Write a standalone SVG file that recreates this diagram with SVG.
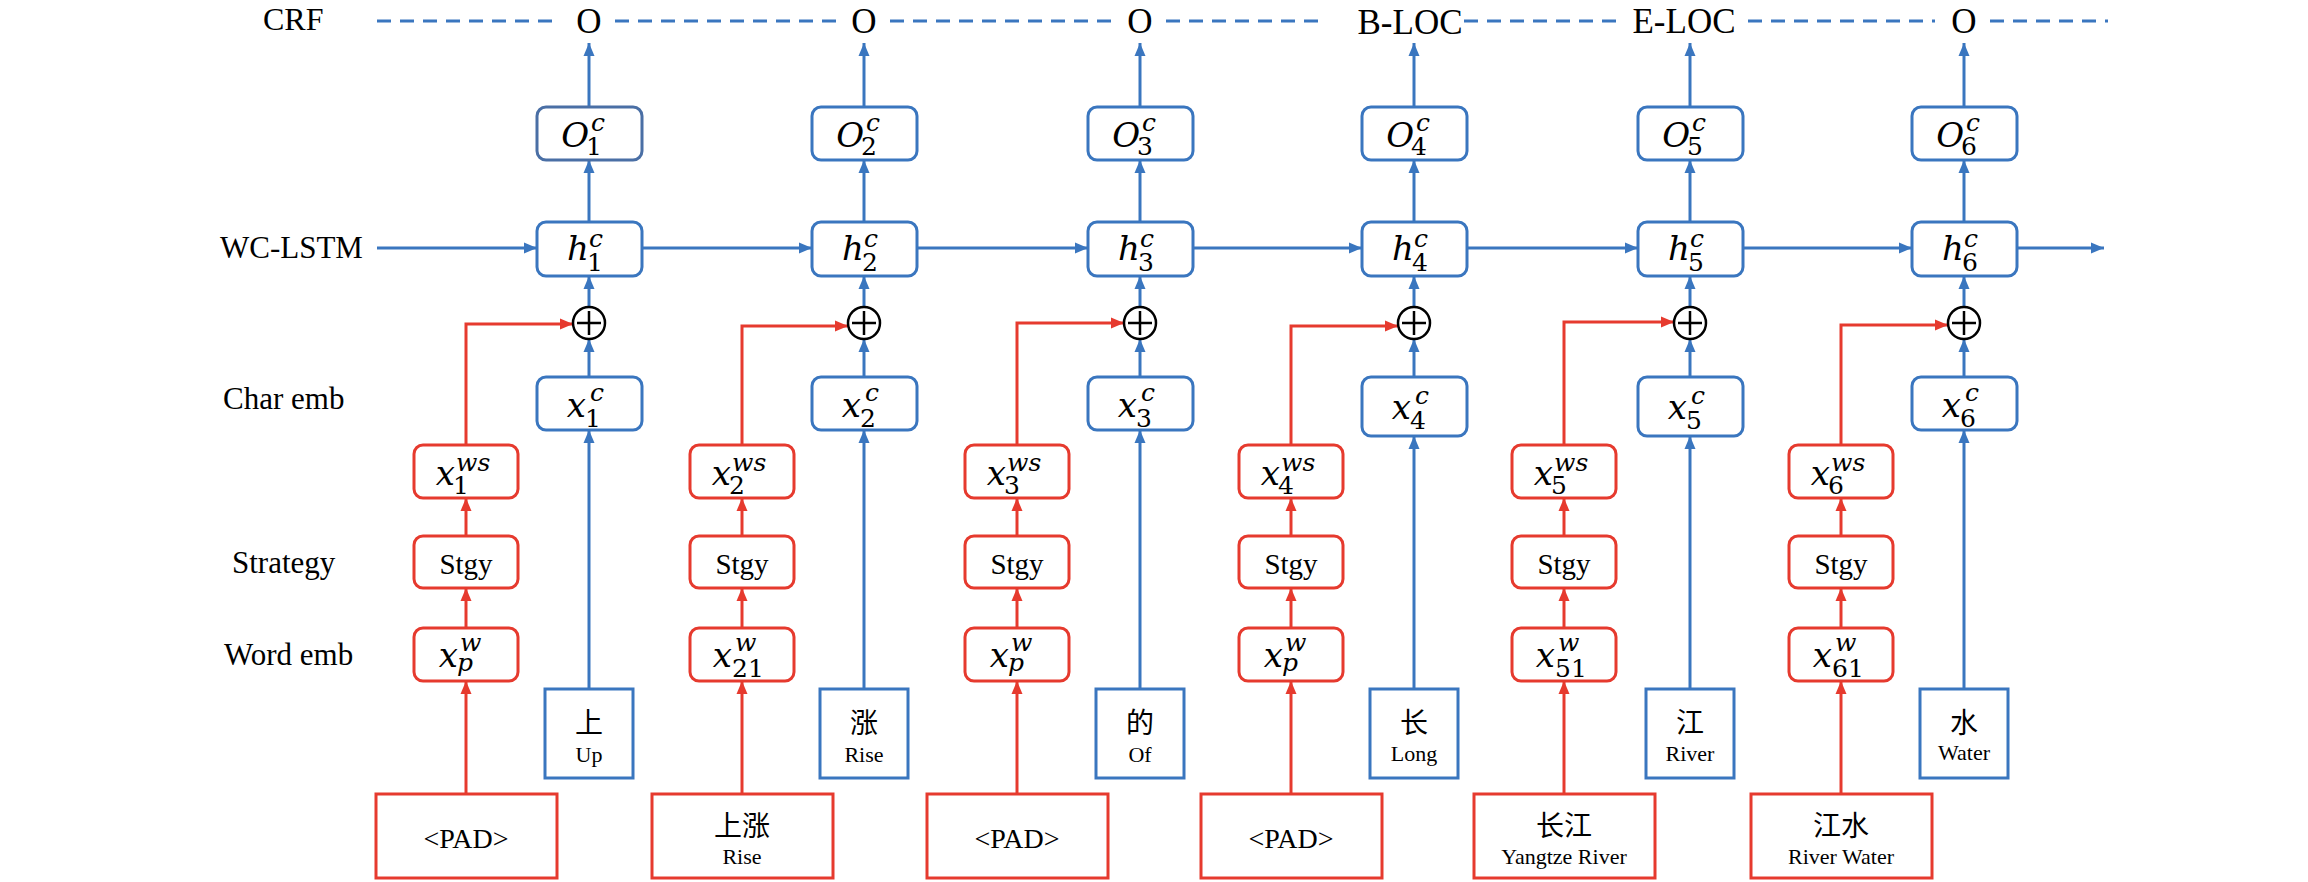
<svg xmlns="http://www.w3.org/2000/svg" width="2308" height="882" viewBox="0 0 2308 882">
<style>
.bg{fill:#ffffff}
.bb{fill:#ffffff;stroke:#3A76BF;stroke-width:3}
.rb{fill:#ffffff;stroke:#E63A2E;stroke-width:3}
.bl{fill:none;stroke:#3A76BF;stroke-width:3}
.rl{fill:none;stroke:#E63A2E;stroke-width:3}
.dash{fill:none;stroke:#3A76BF;stroke-width:3;stroke-dasharray:14 9}
.circ{fill:#ffffff;stroke:#000000;stroke-width:2.5}
.lab{font-family:"Liberation Serif","Times New Roman",serif;font-size:31px;fill:#000}
.top{font-family:"Liberation Serif","Times New Roman",serif;font-size:35px;fill:#000;text-anchor:middle}
.m{font-family:"DejaVu Serif",serif;font-style:italic;font-size:34px;fill:#000;text-anchor:end}
.sp{font-family:"DejaVu Serif",serif;font-style:italic;font-size:25px;fill:#000}
.sb{font-family:"DejaVu Serif",serif;font-size:25px;fill:#000}
.tm{font-family:"Liberation Serif","Times New Roman",serif;font-size:29px;fill:#000;text-anchor:middle}
.cj{font-family:"Noto Sans CJK SC",sans-serif;font-size:28px;fill:#000;text-anchor:middle}
.en{font-family:"Liberation Serif","Times New Roman",serif;font-size:22px;fill:#000;text-anchor:middle}
</style>
<defs>
<marker id="ab" markerUnits="userSpaceOnUse" markerWidth="14" markerHeight="12" refX="13" refY="6" orient="auto"><path d="M0,0.5 L13,6 L0,11.5 z" fill="#3A76BF"/></marker>
<marker id="ar" markerUnits="userSpaceOnUse" markerWidth="14" markerHeight="12" refX="13" refY="6" orient="auto"><path d="M0,0.5 L13,6 L0,11.5 z" fill="#E63A2E"/></marker>
</defs>
<rect class="bg" x="0" y="0" width="2308" height="882"/>

<g id="labels">
<text class="lab" x="263" y="30" style="font-size:32px">CRF</text>
<text class="lab" x="220" y="258">WC-LSTM</text>
<text class="lab" x="223" y="409">Char emb</text>
<text class="lab" x="232" y="573">Strategy</text>
<text class="lab" x="224" y="665">Word emb</text>
</g>

<g id="connectors">
<path class="dash" d="M377,21 H560 M615,21 H836 M890,21 H1112 M1166,21 H1325 M1464,21 H1618 M1748,21 H1935 M1990,21 H2108"/>
<path class="bl" marker-end="url(#ab)" d="M377,248 H537"/>
<path class="bl" marker-end="url(#ab)" d="M642,248 H812"/>
<path class="bl" marker-end="url(#ab)" d="M917,248 H1088"/>
<path class="bl" marker-end="url(#ab)" d="M1193,248 H1362"/>
<path class="bl" marker-end="url(#ab)" d="M1467,248 H1638"/>
<path class="bl" marker-end="url(#ab)" d="M1743,248 H1912"/>
<path class="bl" marker-end="url(#ab)" d="M2017,248 H2104"/>

<path class="bl" marker-end="url(#ab)" d="M589,107 V43"/>
<path class="bl" marker-end="url(#ab)" d="M589,222 V160"/>
<path class="bl" marker-end="url(#ab)" d="M589,307 V276"/>
<path class="bl" marker-end="url(#ab)" d="M589,377 V339"/>
<path class="bl" marker-end="url(#ab)" d="M589,689 V430"/>

<path class="bl" marker-end="url(#ab)" d="M864,107 V43"/>
<path class="bl" marker-end="url(#ab)" d="M864,222 V160"/>
<path class="bl" marker-end="url(#ab)" d="M864,307 V276"/>
<path class="bl" marker-end="url(#ab)" d="M864,377 V339"/>
<path class="bl" marker-end="url(#ab)" d="M864,689 V430"/>

<path class="bl" marker-end="url(#ab)" d="M1140,107 V43"/>
<path class="bl" marker-end="url(#ab)" d="M1140,222 V160"/>
<path class="bl" marker-end="url(#ab)" d="M1140,307 V276"/>
<path class="bl" marker-end="url(#ab)" d="M1140,377 V339"/>
<path class="bl" marker-end="url(#ab)" d="M1140,689 V430"/>

<path class="bl" marker-end="url(#ab)" d="M1414,107 V43"/>
<path class="bl" marker-end="url(#ab)" d="M1414,222 V160"/>
<path class="bl" marker-end="url(#ab)" d="M1414,307 V276"/>
<path class="bl" marker-end="url(#ab)" d="M1414,377 V339"/>
<path class="bl" marker-end="url(#ab)" d="M1414,689 V436"/>

<path class="bl" marker-end="url(#ab)" d="M1690,107 V43"/>
<path class="bl" marker-end="url(#ab)" d="M1690,222 V160"/>
<path class="bl" marker-end="url(#ab)" d="M1690,307 V276"/>
<path class="bl" marker-end="url(#ab)" d="M1690,377 V339"/>
<path class="bl" marker-end="url(#ab)" d="M1690,689 V436"/>

<path class="bl" marker-end="url(#ab)" d="M1964,107 V43"/>
<path class="bl" marker-end="url(#ab)" d="M1964,222 V160"/>
<path class="bl" marker-end="url(#ab)" d="M1964,307 V276"/>
<path class="bl" marker-end="url(#ab)" d="M1964,377 V339"/>
<path class="bl" marker-end="url(#ab)" d="M1964,689 V430"/>

<path class="rl" marker-end="url(#ar)" d="M466,445 V324 H573"/>
<path class="rl" marker-end="url(#ar)" d="M466,536 V498"/>
<path class="rl" marker-end="url(#ar)" d="M466,628 V588"/>
<path class="rl" marker-end="url(#ar)" d="M466,794 V681"/>

<path class="rl" marker-end="url(#ar)" d="M742,445 V326 H848"/>
<path class="rl" marker-end="url(#ar)" d="M742,536 V498"/>
<path class="rl" marker-end="url(#ar)" d="M742,628 V588"/>
<path class="rl" marker-end="url(#ar)" d="M742,794 V681"/>

<path class="rl" marker-end="url(#ar)" d="M1017,445 V323 H1124"/>
<path class="rl" marker-end="url(#ar)" d="M1017,536 V498"/>
<path class="rl" marker-end="url(#ar)" d="M1017,628 V588"/>
<path class="rl" marker-end="url(#ar)" d="M1017,794 V681"/>

<path class="rl" marker-end="url(#ar)" d="M1291,445 V326 H1398"/>
<path class="rl" marker-end="url(#ar)" d="M1291,536 V498"/>
<path class="rl" marker-end="url(#ar)" d="M1291,628 V588"/>
<path class="rl" marker-end="url(#ar)" d="M1291,794 V681"/>

<path class="rl" marker-end="url(#ar)" d="M1564,445 V322 H1674"/>
<path class="rl" marker-end="url(#ar)" d="M1564,536 V498"/>
<path class="rl" marker-end="url(#ar)" d="M1564,628 V588"/>
<path class="rl" marker-end="url(#ar)" d="M1564,794 V681"/>

<path class="rl" marker-end="url(#ar)" d="M1841,445 V325 H1948"/>
<path class="rl" marker-end="url(#ar)" d="M1841,536 V498"/>
<path class="rl" marker-end="url(#ar)" d="M1841,628 V588"/>
<path class="rl" marker-end="url(#ar)" d="M1841,794 V681"/>
</g>

<g id="crf-tags">
<text class="top" x="589" y="33">O</text>
<text class="top" x="864" y="33">O</text>
<text class="top" x="1140" y="33">O</text>
<text class="top" x="1410" y="34">B-LOC</text>
<text class="top" x="1684" y="33">E-LOC</text>
<text class="top" x="1964" y="33">O</text>
</g>

<g id="o1"><rect class="bb" style="stroke:#4A6FA5" x="537" y="107" width="105" height="53" rx="9"/><text class="m" x="589" y="147">O</text><text class="sp" x="591" y="131">c</text><text class="sb" x="586" y="155">1</text></g>
<g id="h1"><rect class="bb" x="537" y="222" width="105" height="54" rx="9"/><text class="m" x="589" y="260">h</text><text class="sp" x="589" y="247">c</text><text class="sb" x="587" y="271">1</text></g>
<g id="plus1"><circle class="circ" cx="589" cy="323" r="16"/><path d="M577,323 H601 M589,311 V335" stroke="#000" stroke-width="2.5"/></g>
<g id="xc1"><rect class="bb" x="537" y="377" width="105" height="53" rx="9"/><text class="m" x="586" y="417">x</text><text class="sp" x="590" y="401">c</text><text class="sb" x="585" y="427">1</text></g>
<g id="ch1"><rect class="bb" x="545" y="689" width="88" height="89"/><text class="cj" x="589" y="733">上</text><text class="en" x="589" y="762">Up</text></g>
<g id="xws1"><rect class="rb" x="414" y="445" width="104" height="53" rx="9"/><text class="m" x="455" y="485">x</text><text class="sp" x="456" y="471">ws</text><text class="sb" x="453" y="494">1</text></g>
<g id="stgy1"><rect class="rb" x="414" y="536" width="104" height="52" rx="9"/><text class="tm" x="466" y="574">Stgy</text></g>
<g id="xw1"><rect class="rb" x="414" y="628" width="104" height="53" rx="9"/><text class="m" x="458" y="667">x</text><text class="sp" x="460" y="651">w</text><text class="sp" x="457" y="671">p</text></g>
<g id="wd1"><rect class="rb" x="376" y="794" width="181" height="84"/><text class="tm" x="466" y="848" style="font-size:28px">&lt;PAD&gt;</text></g>

<g id="o2"><rect class="bb" x="812" y="107" width="105" height="53" rx="9"/><text class="m" x="864" y="147">O</text><text class="sp" x="866" y="131">c</text><text class="sb" x="861" y="155">2</text></g>
<g id="h2"><rect class="bb" x="812" y="222" width="105" height="54" rx="9"/><text class="m" x="864" y="260">h</text><text class="sp" x="864" y="247">c</text><text class="sb" x="862" y="271">2</text></g>
<g id="plus2"><circle class="circ" cx="864" cy="323" r="16"/><path d="M852,323 H876 M864,311 V335" stroke="#000" stroke-width="2.5"/></g>
<g id="xc2"><rect class="bb" x="812" y="377" width="105" height="53" rx="9"/><text class="m" x="861" y="417">x</text><text class="sp" x="865" y="401">c</text><text class="sb" x="860" y="427">2</text></g>
<g id="ch2"><rect class="bb" x="820" y="689" width="88" height="89"/><text class="cj" x="864" y="733">涨</text><text class="en" x="864" y="762">Rise</text></g>
<g id="xws2"><rect class="rb" x="690" y="445" width="104" height="53" rx="9"/><text class="m" x="731" y="485">x</text><text class="sp" x="732" y="471">ws</text><text class="sb" x="729" y="494">2</text></g>
<g id="stgy2"><rect class="rb" x="690" y="536" width="104" height="52" rx="9"/><text class="tm" x="742" y="574">Stgy</text></g>
<g id="xw2"><rect class="rb" x="690" y="628" width="104" height="53" rx="9"/><text class="m" x="732" y="667">x</text><text class="sp" x="735" y="651">w</text><text class="sb" x="732" y="677">21</text></g>
<g id="wd2"><rect class="rb" x="652" y="794" width="181" height="84"/><text class="cj" x="742" y="836">上涨</text><text class="en" x="742" y="864">Rise</text></g>

<g id="o3"><rect class="bb" x="1088" y="107" width="105" height="53" rx="9"/><text class="m" x="1140" y="147">O</text><text class="sp" x="1142" y="131">c</text><text class="sb" x="1137" y="155">3</text></g>
<g id="h3"><rect class="bb" x="1088" y="222" width="105" height="54" rx="9"/><text class="m" x="1140" y="260">h</text><text class="sp" x="1140" y="247">c</text><text class="sb" x="1138" y="271">3</text></g>
<g id="plus3"><circle class="circ" cx="1140" cy="323" r="16"/><path d="M1128,323 H1152 M1140,311 V335" stroke="#000" stroke-width="2.5"/></g>
<g id="xc3"><rect class="bb" x="1088" y="377" width="105" height="53" rx="9"/><text class="m" x="1137" y="417">x</text><text class="sp" x="1141" y="401">c</text><text class="sb" x="1136" y="427">3</text></g>
<g id="ch3"><rect class="bb" x="1096" y="689" width="88" height="89"/><text class="cj" x="1140" y="733">的</text><text class="en" x="1140" y="762">Of</text></g>
<g id="xws3"><rect class="rb" x="965" y="445" width="104" height="53" rx="9"/><text class="m" x="1006" y="485">x</text><text class="sp" x="1007" y="471">ws</text><text class="sb" x="1004" y="494">3</text></g>
<g id="stgy3"><rect class="rb" x="965" y="536" width="104" height="52" rx="9"/><text class="tm" x="1017" y="574">Stgy</text></g>
<g id="xw3"><rect class="rb" x="965" y="628" width="104" height="53" rx="9"/><text class="m" x="1009" y="667">x</text><text class="sp" x="1011" y="651">w</text><text class="sp" x="1008" y="671">p</text></g>
<g id="wd3"><rect class="rb" x="927" y="794" width="181" height="84"/><text class="tm" x="1017" y="848" style="font-size:28px">&lt;PAD&gt;</text></g>

<g id="o4"><rect class="bb" x="1362" y="107" width="105" height="53" rx="9"/><text class="m" x="1414" y="147">O</text><text class="sp" x="1416" y="131">c</text><text class="sb" x="1411" y="155">4</text></g>
<g id="h4"><rect class="bb" x="1362" y="222" width="105" height="54" rx="9"/><text class="m" x="1414" y="260">h</text><text class="sp" x="1414" y="247">c</text><text class="sb" x="1412" y="271">4</text></g>
<g id="plus4"><circle class="circ" cx="1414" cy="323" r="16"/><path d="M1402,323 H1426 M1414,311 V335" stroke="#000" stroke-width="2.5"/></g>
<g id="xc4"><rect class="bb" x="1362" y="377" width="105" height="59" rx="9"/><text class="m" x="1411" y="419">x</text><text class="sp" x="1415" y="404">c</text><text class="sb" x="1410" y="429">4</text></g>
<g id="ch4"><rect class="bb" x="1370" y="689" width="88" height="89"/><text class="cj" x="1414" y="733">长</text><text class="en" x="1414" y="761">Long</text></g>
<g id="xws4"><rect class="rb" x="1239" y="445" width="104" height="53" rx="9"/><text class="m" x="1280" y="485">x</text><text class="sp" x="1281" y="471">ws</text><text class="sb" x="1278" y="494">4</text></g>
<g id="stgy4"><rect class="rb" x="1239" y="536" width="104" height="52" rx="9"/><text class="tm" x="1291" y="574">Stgy</text></g>
<g id="xw4"><rect class="rb" x="1239" y="628" width="104" height="53" rx="9"/><text class="m" x="1283" y="667">x</text><text class="sp" x="1285" y="651">w</text><text class="sp" x="1282" y="671">p</text></g>
<g id="wd4"><rect class="rb" x="1201" y="794" width="181" height="84"/><text class="tm" x="1291" y="848" style="font-size:28px">&lt;PAD&gt;</text></g>

<g id="o5"><rect class="bb" x="1638" y="107" width="105" height="53" rx="9"/><text class="m" x="1690" y="147">O</text><text class="sp" x="1692" y="131">c</text><text class="sb" x="1687" y="155">5</text></g>
<g id="h5"><rect class="bb" x="1638" y="222" width="105" height="54" rx="9"/><text class="m" x="1690" y="260">h</text><text class="sp" x="1690" y="247">c</text><text class="sb" x="1688" y="271">5</text></g>
<g id="plus5"><circle class="circ" cx="1690" cy="323" r="16"/><path d="M1678,323 H1702 M1690,311 V335" stroke="#000" stroke-width="2.5"/></g>
<g id="xc5"><rect class="bb" x="1638" y="377" width="105" height="59" rx="9"/><text class="m" x="1687" y="419">x</text><text class="sp" x="1691" y="404">c</text><text class="sb" x="1686" y="429">5</text></g>
<g id="ch5"><rect class="bb" x="1646" y="689" width="88" height="89"/><text class="cj" x="1690" y="733">江</text><text class="en" x="1690" y="761">River</text></g>
<g id="xws5"><rect class="rb" x="1512" y="445" width="104" height="53" rx="9"/><text class="m" x="1553" y="485">x</text><text class="sp" x="1554" y="471">ws</text><text class="sb" x="1551" y="494">5</text></g>
<g id="stgy5"><rect class="rb" x="1512" y="536" width="104" height="52" rx="9"/><text class="tm" x="1564" y="574">Stgy</text></g>
<g id="xw5"><rect class="rb" x="1512" y="628" width="104" height="53" rx="9"/><text class="m" x="1555" y="667">x</text><text class="sp" x="1558" y="651">w</text><text class="sb" x="1555" y="677">51</text></g>
<g id="wd5"><rect class="rb" x="1474" y="794" width="181" height="84"/><text class="cj" x="1564" y="836">长江</text><text class="en" x="1564" y="864">Yangtze River</text></g>

<g id="o6"><rect class="bb" x="1912" y="107" width="105" height="53" rx="9"/><text class="m" x="1964" y="147">O</text><text class="sp" x="1966" y="131">c</text><text class="sb" x="1961" y="155">6</text></g>
<g id="h6"><rect class="bb" x="1912" y="222" width="105" height="54" rx="9"/><text class="m" x="1964" y="260">h</text><text class="sp" x="1964" y="247">c</text><text class="sb" x="1962" y="271">6</text></g>
<g id="plus6"><circle class="circ" cx="1964" cy="323" r="16"/><path d="M1952,323 H1976 M1964,311 V335" stroke="#000" stroke-width="2.5"/></g>
<g id="xc6"><rect class="bb" x="1912" y="377" width="105" height="53" rx="9"/><text class="m" x="1961" y="417">x</text><text class="sp" x="1965" y="401">c</text><text class="sb" x="1960" y="427">6</text></g>
<g id="ch6"><rect class="bb" x="1920" y="689" width="88" height="89"/><text class="cj" x="1964" y="733">水</text><text class="en" x="1964" y="760">Water</text></g>
<g id="xws6"><rect class="rb" x="1789" y="445" width="104" height="53" rx="9"/><text class="m" x="1830" y="485">x</text><text class="sp" x="1831" y="471">ws</text><text class="sb" x="1828" y="494">6</text></g>
<g id="stgy6"><rect class="rb" x="1789" y="536" width="104" height="52" rx="9"/><text class="tm" x="1841" y="574">Stgy</text></g>
<g id="xw6"><rect class="rb" x="1789" y="628" width="104" height="53" rx="9"/><text class="m" x="1832" y="667">x</text><text class="sp" x="1835" y="651">w</text><text class="sb" x="1832" y="677">61</text></g>
<g id="wd6"><rect class="rb" x="1751" y="794" width="181" height="84"/><text class="cj" x="1841" y="836">江水</text><text class="en" x="1841" y="864">River Water</text></g>
</svg>
